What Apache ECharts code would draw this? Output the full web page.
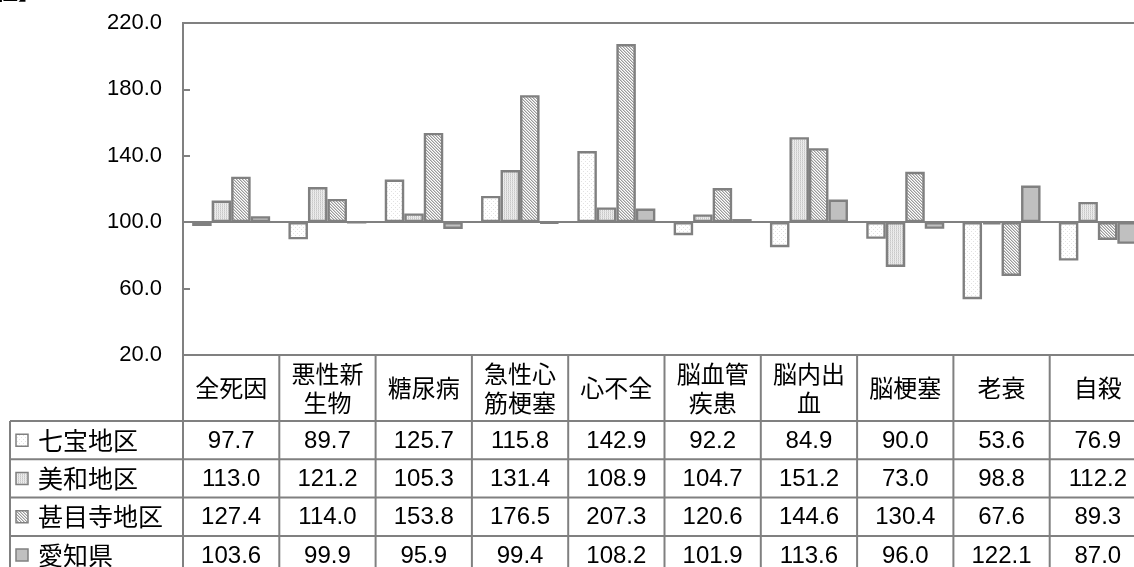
<!DOCTYPE html>
<html>
<head>
<meta charset="utf-8">
<script src="https://cdn.jsdelivr.net/npm/echarts@6/dist/echarts.min.js"></script>
<style>
  html, body { margin: 0; padding: 0; background: #fff; }
  #chart { width: 1134px; height: 567px; }
</style>
</head>
<body>
<div id="chart"></div>
<script>
// Standardised mortality ratios by cause of death (Aichi = 100 baseline)
const categories = ['全死因', '悪性新\n生物', '糖尿病', '急性心\n筋梗塞', '心不全', '脳血管\n疾患', '脳内出\n血', '脳梗塞', '老衰', '自殺'];
const seriesNames = ['七宝地区', '美和地区', '甚目寺地区', '愛知県'];
const shichiho = [97.7, 89.7, 125.7, 115.8, 142.9, 92.2, 84.9, 90.0, 53.6, 76.9];
const miwa     = [113.0, 121.2, 105.3, 131.4, 108.9, 104.7, 151.2, 73.0, 98.8, 112.2];
const jimokuji = [127.4, 114.0, 153.8, 176.5, 207.3, 120.6, 144.6, 130.4, 67.6, 89.3];
const aichi    = [103.6, 99.9, 95.9, 99.4, 108.2, 101.9, 113.6, 96.0, 122.1, 87.0];
const yMin = 20, yMax = 220, yStep = 40;
const baseline = 100;

const seriesValues = [shichiho, miwa, jimokuji, aichi];

// small repeating textures for the bar fills
function makePattern(w, h, bg, pixels) {
  const c = document.createElement('canvas');
  c.width = w; c.height = h;
  const ctx = c.getContext('2d');
  ctx.fillStyle = bg; ctx.fillRect(0, 0, w, h);
  pixels.forEach(([x, y, col]) => { ctx.fillStyle = col; ctx.fillRect(x, y, 1, 1); });
  return { image: c, repeat: 'repeat' };
}
const fills = [
  makePattern(4, 4, '#ffffff', [[1, 1, '#e2e2e2'], [3, 3, '#e2e2e2']]),
  makePattern(2, 2, '#f0f0f0', [[0, 0, '#c8c8c8'], [0, 1, '#d8d8d8'], [1, 1, '#e6e6e6']]),
  makePattern(3, 3, '#ffffff', [[0, 0, '#9a9a9a'], [1, 1, '#9a9a9a'], [2, 2, '#9a9a9a'],
                                [1, 0, '#d0d0d0'], [2, 1, '#d0d0d0'], [0, 2, '#d0d0d0']]),
  '#c0c0c0'
];
const edge = '#808080';

const chart = echarts.init(document.getElementById('chart'), null, { renderer: 'canvas' });

// each series is a transparent spacer up to min(v,100) plus a visible segment to v,
// so bars rise or fall from the 100 baseline
const series = [];
seriesValues.forEach((vals, k) => {
  series.push({
    type: 'bar', stack: 's' + k, silent: true,
    data: vals.map(v => Math.min(v, baseline)),
    itemStyle: { color: 'transparent' },
    barGap: '0%', barCategoryGap: '19%',
    markLine: k === 0 ? {
      silent: true, symbol: 'none', label: { show: false },
      lineStyle: { color: edge, width: 2, type: 'solid' },
      data: [{ yAxis: baseline }]
    } : undefined
  });
  series.push({
    type: 'bar', stack: 's' + k, name: seriesNames[k],
    data: vals.map(v => Math.abs(v - baseline)),
    itemStyle: { color: fills[k], borderColor: edge, borderWidth: 2.4 },
    barGap: '0%', barCategoryGap: '19%'
  });
});

chart.setOption({
  animation: false,
  backgroundColor: '#ffffff',
  grid: {
    left: 183, top: 23, width: 963, height: 332, outerBoundsMode: 'none', containLabel: false,
    show: true, borderColor: edge, borderWidth: 2, backgroundColor: 'transparent'
  },
  xAxis: {
    type: 'category', data: categories,
    axisLine: { show: false }, axisTick: { show: false }, axisLabel: { show: false }, splitLine: { show: false }
  },
  yAxis: {
    type: 'value', min: yMin, max: yMax, interval: yStep,
    axisLine: { show: true, lineStyle: { color: edge, width: 2 } },
    axisTick: { show: true, inside: true, length: 7, lineStyle: { color: edge, width: 2 } },
    splitLine: { show: false },
    axisLabel: {
      formatter: v => v.toFixed(1), color: '#000', fontSize: 22,
      fontFamily: 'Liberation Sans, Arial, sans-serif', margin: 21
    }
  },
  series: series
});

// data table under the plot, aligned to the category bands
function buildTable() {
  const x0 = chart.convertToPixel({ xAxisIndex: 0 }, 0);
  const x1 = chart.convertToPixel({ xAxisIndex: 0 }, 1);
  const band = x1 - x0;
  const top = chart.convertToPixel({ yAxisIndex: 0 }, yMin);
  const headH = 66, rowH = 38.3;
  const H = 567;
  const leftX = 10, axisX = x0 - band / 2;
  const rightX = axisX + band * categories.length;
  const lineStyle = { stroke: edge, lineWidth: 2 };
  const cjk = '"Noto Sans CJK JP", sans-serif';
  const num = '"Liberation Sans", Arial, sans-serif';
  const g = [];

  // title fragment at the top edge
  g.push({ type: 'text', x: -4, y: -20, style: { text: '性】', font: 'bold 22px ' + cjk, fill: '#000' } });

  // vertical rules
  for (let i = 0; i <= categories.length; i++) {
    const x = axisX + band * i;
    g.push({ type: 'line', shape: { x1: x, y1: top, x2: x, y2: H + 5 }, style: lineStyle });
  }
  g.push({ type: 'line', shape: { x1: leftX, y1: top + headH, x2: leftX, y2: H + 5 }, style: lineStyle });
  // horizontal rules
  for (let r = 0; r < seriesNames.length; r++) {
    const y = top + headH + rowH * r;
    g.push({ type: 'line', shape: { x1: leftX, y1: y, x2: rightX, y2: y }, style: lineStyle });
  }
  // header labels
  categories.forEach((c, i) => {
    g.push({
      type: 'text', x: x0 + band * i, y: top + headH / 2,
      style: { text: c, font: '24px ' + cjk, fill: '#000', align: 'center', verticalAlign: 'middle',
               textAlign: 'center', textVerticalAlign: 'middle', lineHeight: 29 }
    });
  });
  // rows: legend key + values
  seriesNames.forEach((name, r) => {
    const cy = top + headH + rowH * r + rowH / 2;
    g.push({ type: 'rect', shape: { x: 16, y: cy - 6, width: 12, height: 12 },
             style: { fill: fills[r], stroke: edge, lineWidth: 1.5 } });
    g.push({ type: 'text', x: 38, y: cy,
             style: { text: name, font: '25px ' + cjk, fill: '#000', align: 'left', verticalAlign: 'middle',
                      textAlign: 'left', textVerticalAlign: 'middle' } });
    seriesValues[r].forEach((v, i) => {
      g.push({ type: 'text', x: x0 + band * i, y: cy + 1,
               style: { text: v.toFixed(1), font: '24px ' + num, fill: '#000', align: 'center', verticalAlign: 'middle',
                        textAlign: 'center', textVerticalAlign: 'middle' } });
    });
  });
  chart.setOption({ graphic: { elements: g } });
}
buildTable();
</script>
</body>
</html>
